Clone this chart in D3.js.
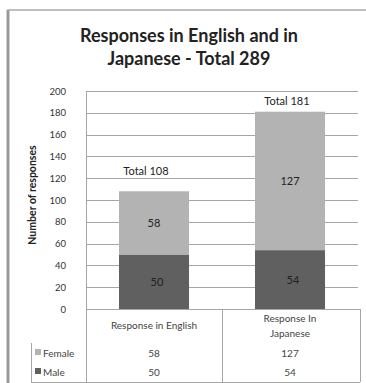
<!DOCTYPE html>
<html>
<head>
<meta charset="utf-8">
<script src="https://cdn.jsdelivr.net/npm/d3@7"></script>
<style>
  body { margin: 0; background: #fff; }
  text { font-family: Lato, "Open Sans", sans-serif; fill: #222; }
</style>
</head>
<body>
<script>
// data
var categories = ["Response in English", "Response In Japanese"];
var categoryLines = [["Response in English"], ["Response In", "Japanese"]];
var female = [58, 127];
var male = [50, 54];
var totals = [108, 181];
var yTicks = [0, 20, 40, 60, 80, 100, 120, 140, 160, 180, 200];
var seriesNames = ["Female", "Male"];
var colors = { Female: "#b3b3b3", Male: "#606060" };

var svg = d3.select("body")
  .append("svg")
  .attr("width", 366)
  .attr("height", 383);

// outer frame
svg.append("line").attr("x1", 8).attr("y1", 10).attr("x2", 8).attr("y2", 383)
  .style("stroke", "#999").style("stroke-width", 3);
svg.append("line").attr("x1", 7).attr("y1", 10).attr("x2", 366).attr("y2", 10)
  .style("stroke", "#aaa").style("stroke-width", 1.5);

// title
var title = svg.append("text")
  .attr("x", 189)
  .attr("text-anchor", "middle")
  .style("font-weight", "bold")
  .style("font-size", "18px");
title.append("tspan").attr("x", 189).attr("y", 42).text("Responses in English and in");
title.append("tspan").attr("x", 189).attr("y", 65).text("Japanese - Total 289");

var plotLeft = 86, plotRight = 358, plotTop = 91, plotBottom = 309;

var y = d3.scaleLinear().domain([0, 200]).range([plotBottom, plotTop]);
var x = d3.scaleBand().domain(categories).range([plotLeft, plotRight])
  .paddingInner(0.485).paddingOuter(0.2425);

// gridlines
svg.append("g")
  .selectAll("line")
  .data(yTicks)
  .enter().append("line")
  .attr("x1", plotLeft)
  .attr("x2", plotRight)
  .attr("y1", function(d) { return Math.round(y(d)) + 0.5; })
  .attr("y2", function(d) { return Math.round(y(d)) + 0.5; })
  .style("stroke", "#a6a6a6")
  .style("stroke-width", 1);

// y axis
var yAxis = svg.append("g")
  .attr("transform", "translate(" + plotLeft + ",0)")
  .call(d3.axisLeft(y).tickValues(yTicks).tickSize(0).tickPadding(20));
yAxis.select(".domain").style("stroke", "#a6a6a6");
yAxis.selectAll("text")
  .style("font-size", "9.5px")
  .style("fill", "#333")
  .style("font-family", "Lato, sans-serif");

svg.append("text")
  .attr("transform", "translate(36," + ((plotTop + plotBottom) / 2 - 5) + ") rotate(-90)")
  .attr("text-anchor", "middle")
  .style("font-size", "10.5px")
  .style("font-weight", "bold")
  .text("Number of responses");

// stacked bars
var stackData = categories.map(function(c, i) {
  return { cat: c, Female: female[i], Male: male[i] };
});
var series = d3.stack().keys(["Male", "Female"])(stackData);

svg.append("g")
  .selectAll("g")
  .data(series)
  .enter().append("g")
  .style("fill", function(s) { return colors[s.key]; })
  .selectAll("rect")
  .data(function(s) { return s; })
  .enter().append("rect")
  .attr("x", function(d) { return x(d.data.cat); })
  .attr("width", x.bandwidth())
  .attr("y", function(d) { return y(d[1]); })
  .attr("height", function(d) { return y(d[0]) - y(d[1]); });

// segment labels
series.forEach(function(s) {
  svg.append("g")
    .selectAll("text")
    .data(s)
    .enter().append("text")
    .attr("x", function(d) { return x(d.data.cat) + x.bandwidth() / 2 + (s.key == "Male" ? 3 : 0); })
    .attr("y", function(d) { return (y(d[0]) + y(d[1])) / 2 + 4; })
    .attr("text-anchor", "middle")
    .style("font-size", "11px")
    .text(function(d) { return d.data[s.key]; });
});

// total labels
var totalDy = [-16, -7];
svg.append("g")
  .selectAll("text")
  .data(totals)
  .enter().append("text")
  .attr("x", function(d, i) { return x(categories[i]) + x.bandwidth() / 2 - (i == 0 ? 8 : 3); })
  .attr("y", function(d, i) { return y(d) + totalDy[i]; })
  .attr("text-anchor", "middle")
  .style("font-size", "11px")
  .text(function(d) { return "Total " + d; });

// data table
var tableBottom = 382, headerBottom = 343;
var rowY = [353, 372];
var colBounds = [plotLeft].concat(categories.map(function(c) { return x(c) + x.bandwidth() / 2 + x.step() / 2; }));
var gridStyle = function(sel) { sel.style("stroke", "#a6a6a6").style("stroke-width", 1); };

svg.append("line").attr("x1", plotLeft).attr("x2", plotRight + 2).attr("y1", plotBottom + 0.5).attr("y2", plotBottom + 0.5).call(gridStyle);
svg.append("line").attr("x1", 31).attr("x2", plotRight + 2).attr("y1", tableBottom + 0.5).attr("y2", tableBottom + 0.5).call(gridStyle);
svg.append("line").attr("x1", 31.5).attr("x2", 31.5).attr("y1", headerBottom).attr("y2", tableBottom).call(gridStyle);
svg.append("g").selectAll("line")
  .data(colBounds)
  .enter().append("line")
  .attr("x1", function(d, i) { return Math.round(d) + (i == 2 ? 2.5 : 0.5); })
  .attr("x2", function(d, i) { return Math.round(d) + (i == 2 ? 2.5 : 0.5); })
  .attr("y1", plotBottom)
  .attr("y2", tableBottom)
  .call(gridStyle);

// header text
categoryLines.forEach(function(lines, i) {
  var cx = x(categories[i]) + x.bandwidth() / 2;
  var y0 = 329 - (lines.length - 1) * 7.5;
  lines.forEach(function(l, j) {
    svg.append("text")
      .attr("x", cx)
      .attr("y", y0 + j * 15)
      .attr("text-anchor", "middle")
      .style("font-size", "10px")
      .style("fill", "#444")
      .text(l);
  });
});

// row values and legend keys
var rows = [female, male];
seriesNames.forEach(function(name, r) {
  svg.append("rect")
    .attr("x", 35).attr("y", rowY[r] - 4)
    .attr("width", 6).attr("height", 6)
    .style("fill", colors[name]);
  svg.append("text")
    .attr("x", 43).attr("y", rowY[r] + 3.5)
    .style("font-size", "10px")
    .style("fill", "#444")
    .text(name);
  svg.append("g").selectAll("text")
    .data(rows[r])
    .enter().append("text")
    .attr("x", function(d, i) { return x(categories[i]) + x.bandwidth() / 2; })
    .attr("y", rowY[r] + 3.5)
    .attr("text-anchor", "middle")
    .style("font-size", "10px")
    .style("fill", "#444")
    .text(function(d) { return d; });
});
</script>
</body>
</html>
